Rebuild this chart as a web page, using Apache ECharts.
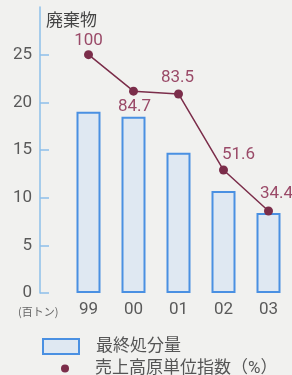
<!DOCTYPE html>
<html>
<head>
<meta charset="utf-8">
<script src="https://cdn.jsdelivr.net/npm/echarts@6/dist/echarts.min.js"></script>
<style>
  html, body { margin: 0; padding: 0; background: #f1f1ef; }
  #chart { width: 292px; height: 375px; }
</style>
</head>
<body>
<div id="chart"></div>
<script>
// 年度
const years = ['99', '00', '01', '02', '03']
// 最終処分量（百トン）
const disposal = [19.0, 18.5, 14.7, 10.7, 8.4]
// 売上高原単位指数（%）
const intensity = [100, 84.7, 83.5, 51.6, 34.4]
// 目盛
const yTicks = [0, 5, 10, 15, 20, 25]

const barName = '最終処分量'
const lineName = '売上高原単位指数（%）'

// ラベルのずらし位置 [x, y]
const labelShift = [[0, -14], [1, 16], [-1, -16], [15, -15], [8, -17]]

const font = 'Roboto, "Noto Sans CJK JP", sans-serif'
const chart = echarts.init(document.getElementById('chart'))

const option = {
  backgroundColor: '#f1f1ef',
  animation: false,
  grid: { left: 66, right: 1, top: 7, bottom: 82 },
  xAxis: {
    type: 'category',
    data: years,
    axisLine: { show: false },
    axisTick: { show: false },
    axisLabel: { color: '#5a5a5a', fontSize: 17, fontFamily: font, margin: 8 }
  },
  yAxis: [
    {
      type: 'value',
      min: 0,
      max: 30,
      interval: 5,
      offset: 26,
      splitLine: { show: false },
      axisLine: { show: true, lineStyle: { color: '#8dbfea', width: 1.5 } },
      axisTick: { show: true, inside: true, length: 9, customValues: yTicks, lineStyle: { color: '#8dbfea', width: 1.5 } },
      axisLabel: { customValues: yTicks, color: '#5a5a5a', fontSize: 17, fontFamily: font, margin: 8 }
    },
    { type: 'value', min: 0, max: 120, show: false }
  ],
  legend: [
    {
      left: 37,
      top: 333,
      orient: 'vertical',
      icon: 'rect',
      itemWidth: 36,
      itemHeight: 15,
      data: [barName],
      textStyle: { color: '#555', fontSize: 17, fontFamily: font, padding: [0, 0, 0, 12] }
    },
    {
      left: 56,
      top: 355,
      orient: 'vertical',
      icon: 'circle',
      itemWidth: 8,
      itemHeight: 8,
      data: [lineName],
      textStyle: { color: '#555', fontSize: 17, fontFamily: font, padding: [0, 0, 0, 21] }
    }
  ],
  graphic: [
    { type: 'text', left: 46, top: 11, style: { text: '廃棄物', fill: '#444', font: '17px "Noto Sans CJK JP", sans-serif' } },
    { type: 'text', left: 18, top: 306, style: { text: '(百トン)', fill: '#666', font: '11px "Noto Sans CJK JP", sans-serif' } }
  ],
  series: [
    {
      name: barName,
      type: 'bar',
      data: disposal,
      barWidth: 24,
      itemStyle: { color: '#dfe8f2', borderColor: '#4a90e2', borderWidth: 2 }
    },
    {
      name: lineName,
      type: 'line',
      yAxisIndex: 1,
      data: intensity.map((v, i) => ({
        value: v,
        label: { offset: labelShift[i] }
      })),
      symbol: 'circle',
      symbolSize: 9,
      z: 5,
      lineStyle: { color: '#7b2d4a', width: 1.5 },
      itemStyle: { color: '#7b2d4a' },
      label: {
        show: true,
        position: 'inside',
        color: '#9a4a68',
        fontSize: 17,
        fontFamily: font
      }
    }
  ]
}

chart.setOption(option)
</script>
</body>
</html>
